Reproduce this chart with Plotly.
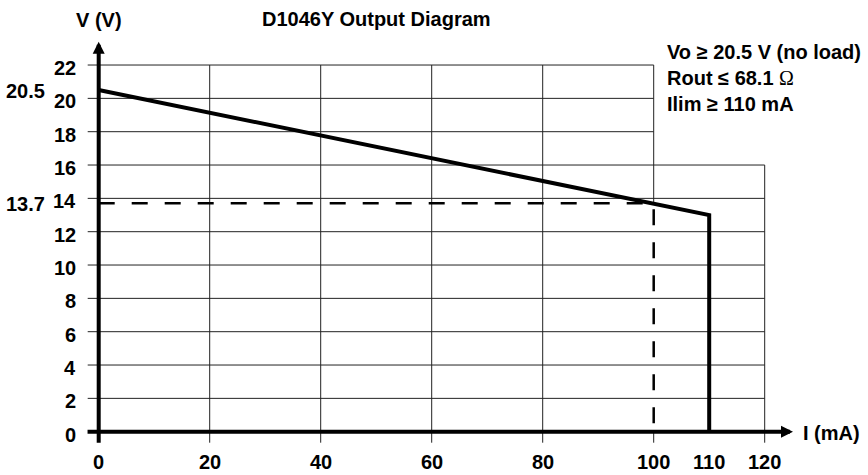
import plotly.graph_objects as go

# ---------------- data ----------------
curve_i = [0, 100, 110, 110]          # mA
curve_v = [20.5, 13.7, 13.0, 0]       # V
ref_i = 100
ref_v = 13.7

x_ticks = [0, 20, 40, 60, 80, 100, 110, 120]
x_grid = [20, 40, 60, 80, 100, 120]
y_ticks = [0, 2, 4, 6, 8, 10, 12, 14, 16, 18, 20, 22]
extra_y_labels = [20.5, 13.7]

title_text = "D1046Y Output Diagram"
y_title = "V (V)"
x_title = "I (mA)"
info_lines = [
    "Vo \u2265 20.5 V (no load)",
    "Rout \u2264 68.1 <span style=\"font-family:'Liberation Serif';font-weight:normal\">\u03a9</span>",
    "Ilim \u2265 110 mA",
]

# ---------------- geometry (px per unit) ----------------
W, H = 868, 475
x0px, xs = 98.7, 5.55     # pixel of x=0, px per mA
y0px, ys = 431.7, 16.667  # pixel of y=0, px per V
xmin = -x0px / xs
xmax = (W - x0px) / xs
ymin = -(H - y0px) / ys
ymax = y0px / ys

tick_x = -11 / xs   # tick extent left of y axis
tick_y = -11 / ys   # tick extent below x axis

FONT = "Liberation Sans, Arial, sans-serif"
fig = go.Figure()

shapes = []
grid_col = "#222222"
# horizontal grid lines
for yv in y_ticks[1:]:
    xend = 120 if yv <= 16 else 100
    shapes.append(dict(type="line", xref="x", yref="y", x0=tick_x, x1=xend, y0=yv, y1=yv,
                       line=dict(color=grid_col, width=1), layer="below"))
# vertical grid lines
for xv in x_grid:
    ytop = 16 if xv == 120 else 22
    if xv == ref_i:
        shapes.append(dict(type="line", xref="x", yref="y", x0=xv, x1=xv, y0=ref_v, y1=ytop,
                           line=dict(color=grid_col, width=1), layer="below"))
        shapes.append(dict(type="line", xref="x", yref="y", x0=xv, x1=xv, y0=tick_y, y1=0,
                           line=dict(color=grid_col, width=1), layer="below"))
    else:
        shapes.append(dict(type="line", xref="x", yref="y", x0=xv, x1=xv, y0=tick_y, y1=ytop,
                           line=dict(color=grid_col, width=1), layer="below"))
fig.update_layout(shapes=shapes)

# dashed reference lines
fig.add_trace(go.Scatter(x=[0, ref_i, ref_i], y=[ref_v, ref_v, 0], mode="lines",
                         line=dict(color="black", width=2.5, dash="16px,17px"),
                         hoverinfo="skip", showlegend=False))
# main curve
fig.add_trace(go.Scatter(x=curve_i, y=curve_v, mode="lines",
                         line=dict(color="black", width=4),
                         hoverinfo="skip", showlegend=False))

annotations = []
# axes with arrows
annotations.append(dict(x=125.1, y=0, ax=tick_x - 0.3, ay=0, xref="x", yref="y", axref="x", ayref="y",
                        text="", showarrow=True, arrowhead=2, arrowsize=0.6, arrowwidth=4, arrowcolor="black"))
annotations.append(dict(x=0, y=23.4, ax=0, ay=tick_y - 0.1, xref="x", yref="y", axref="x", ayref="y",
                        text="", showarrow=True, arrowhead=2, arrowsize=0.6, arrowwidth=4, arrowcolor="black"))

lab_font = dict(family=FONT, size=20, color="black", weight="bold")
# x tick labels
for xv in x_ticks:
    annotations.append(dict(x=xv, y=-1.79, xref="x", yref="y", text=str(xv), showarrow=False,
                            xanchor="center", yanchor="middle", font=lab_font))
# y tick labels
for yv in y_ticks:
    annotations.append(dict(x=-3.7, y=yv, xref="x", yref="y", text=str(yv), showarrow=False,
                            xanchor="right", yanchor="middle", yshift=-3, font=lab_font))
for yv in extra_y_labels:
    annotations.append(dict(x=-9.3, y=yv, xref="x", yref="y", text=str(yv), showarrow=False,
                            xanchor="right", yanchor="middle", yshift=-1, font=lab_font))
# titles
annotations.append(dict(x=0, y=24.7, xref="x", yref="y", text=y_title, showarrow=False,
                        xanchor="center", yanchor="middle", font=lab_font))
annotations.append(dict(x=50.05, y=24.75, xref="x", yref="y", text=title_text, showarrow=False,
                        xanchor="center", yanchor="middle", font=lab_font))
annotations.append(dict(x=126.5, y=-0.1, xref="x", yref="y", text=x_title, showarrow=False,
                        xanchor="left", yanchor="middle", font=lab_font))
annotations.append(dict(x=102.0, y=21.22, xref="x", yref="y", text="<br>".join(info_lines),
                        showarrow=False, xanchor="left", yanchor="middle", align="left", font=lab_font))

fig.update_layout(
    annotations=annotations,
    width=W, height=H,
    margin=dict(l=0, r=0, t=0, b=0),
    paper_bgcolor="white", plot_bgcolor="white",
    xaxis=dict(range=[xmin, xmax], showgrid=False, zeroline=False, showticklabels=False,
               ticks="", showline=False, fixedrange=True),
    yaxis=dict(range=[ymin, ymax], showgrid=False, zeroline=False, showticklabels=False,
               ticks="", showline=False, fixedrange=True),
    showlegend=False,
)

fig.write_html(
    "out.html",
    config={"displayModeBar": False},
    post_script="document.body.style.margin='0';document.body.style.padding='0';document.body.style.overflow='hidden';",
)
